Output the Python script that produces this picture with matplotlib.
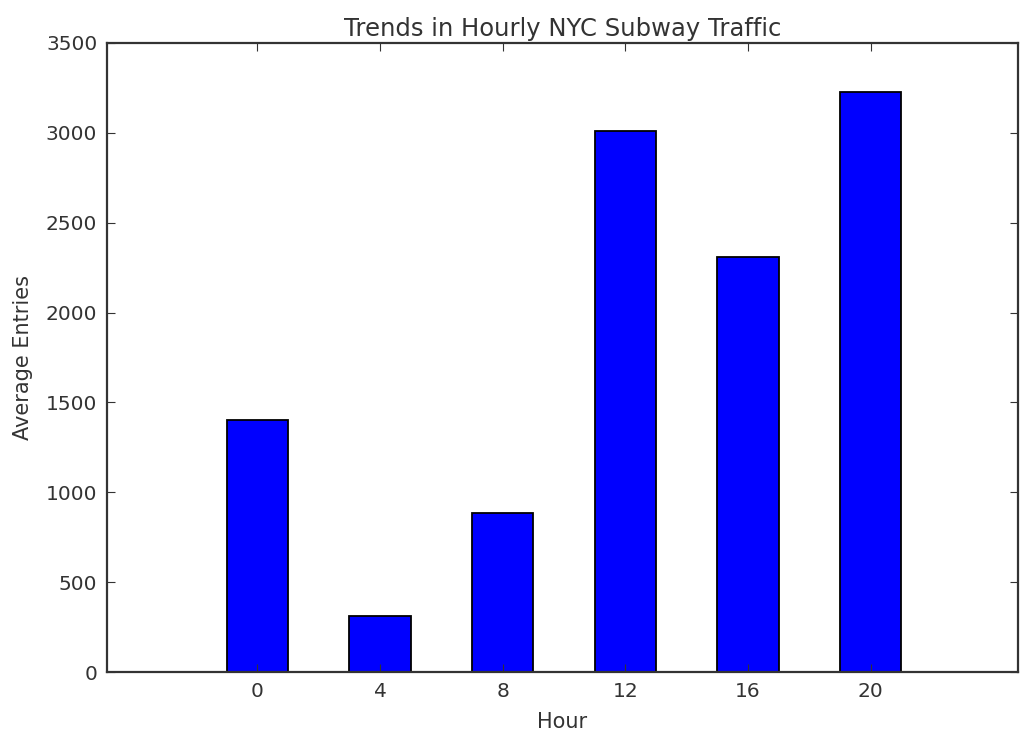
import matplotlib
matplotlib.use("Agg")
import matplotlib.pyplot as plt

hours = [0, 4, 8, 12, 16, 20]
avg_entries = [1402, 310, 885, 3011, 2309, 3228]
hour_labels = ["0", "4", "8", "12", "16", "20"]

fig = plt.figure(figsize=(10.21, 7.31), dpi=100)
ax = fig.add_axes([107/1021, 1 - 672/731, (1018-107)/1021, (672-43)/731])
ax.bar(hours, avg_entries, width=2.0, color="#0000ff", edgecolor="black", linewidth=1.3)
ax.set_xlim(-4.9, 24.8)
ax.set_ylim(0, 3500)
ax.set_xticks(hours)
ax.set_xticklabels(hour_labels)
ax.set_yticks(range(0, 3501, 500))
ax.tick_params(direction="in", top=True, right=True, length=6, labelsize=14.5, pad=7, colors="#333333")
for s in ax.spines.values():
    s.set_linewidth(1.6)
    s.set_color("#333333")
ax.set_title("Trends in Hourly NYC Subway Traffic", fontsize=17.5, pad=5, color="#333333")
ax.set_xlabel("Hour", fontsize=15, color="#333333", labelpad=8)
ax.set_ylabel("Average Entries", fontsize=15, color="#333333", labelpad=9)
fig.savefig("out.png", dpi=100, facecolor="white")
